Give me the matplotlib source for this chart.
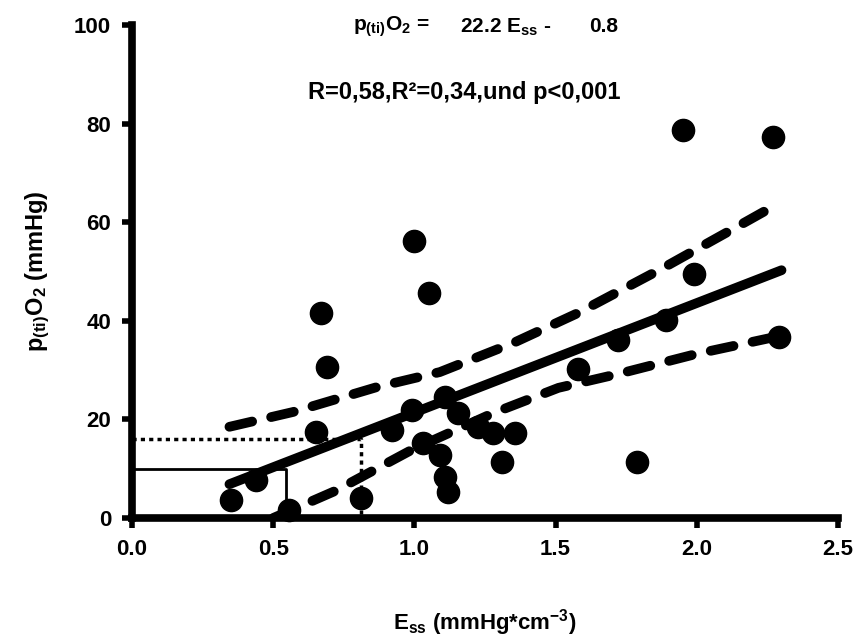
import matplotlib
matplotlib.use('Agg')
import matplotlib.pyplot as plt

# measured points
ees = [0.35, 0.44, 0.556, 0.65, 0.67, 0.69, 0.81, 0.92, 0.99, 1.0, 1.03, 1.05, 1.09, 1.11, 1.11,
       1.12, 1.155, 1.225, 1.28, 1.31, 1.355, 1.58, 1.72, 1.79, 1.89, 1.95, 1.99, 2.27, 2.29]
pto2 = [3.65, 7.7, 1.6, 17.5, 41.5, 30.6, 4.0, 17.8, 21.9, 56.2, 15.2, 45.7, 12.8, 24.6, 8.4,
        5.3, 21.3, 18.5, 17.2, 11.4, 17.2, 30.2, 36.1, 11.4, 40.2, 78.8, 49.5, 77.2, 36.8]

# regression from the printed equation
slope, intercept = 22.2, -0.8
reg_x = [0.345, 2.3]

# 95% band
upper_x = [0.345, 0.57, 0.87, 1.09, 1.35, 1.58, 1.88, 2.14, 2.28]
upper_y = [18.5, 21.5, 26.6, 29.6, 35.5, 41.6, 50.7, 59.0, 63.5]
lower_x = [0.5, 0.72, 0.99, 1.28, 1.51, 1.72, 2.0, 2.3]
lower_y = [0.0, 5.5, 13.8, 21.3, 26.4, 29.2, 33.3, 37.0]

# guide lines
solid_guide_x = [0, 0.545, 0.545]
solid_guide_y = [10, 10, 0]
dot_guide_x = [0, 0.81, 0.81]
dot_guide_y = [16, 16, 0]

plt.rcParams['font.family'] = ['Liberation Sans', 'DejaVu Sans']
plt.rcParams['font.weight'] = 'bold'
plt.rcParams['axes.labelweight'] = 'bold'
plt.rcParams['mathtext.fontset'] = 'custom'
plt.rcParams['mathtext.rm'] = 'Liberation Sans:bold'
plt.rcParams['mathtext.it'] = 'Liberation Sans:bold'
plt.rcParams['mathtext.bf'] = 'Liberation Sans:bold'

fig = plt.figure(figsize=(8.6, 6.43), dpi=100)
ax = fig.add_axes([132 / 860, 1 - 518 / 643, (838 - 132) / 860, (518 - 25) / 643])

ax.plot(solid_guide_x, solid_guide_y, color='black', lw=2)
ax.plot(dot_guide_x, dot_guide_y, color='black', lw=2.5, dashes=(1.2, 1.2))

reg_y = [slope * v + intercept for v in reg_x]
ax.plot(reg_x, reg_y, color='black', lw=7, solid_capstyle='round')
ax.plot(upper_x, upper_y, color='black', lw=7, dashes=(2.4, 2.0), dash_capstyle='round')
ax.plot(lower_x, lower_y, color='black', lw=7, dashes=(2.4, 2.0), dash_capstyle='round')

ax.plot(ees, pto2, 'o', color='black', markersize=16, clip_on=False, zorder=3)

ax.set_xlim(0, 2.5)
ax.set_ylim(0, 100)
ax.set_xticks([0, 0.5, 1.0, 1.5, 2.0, 2.5])
ax.set_xticklabels(['0.0', '0.5', '1.0', '1.5', '2.0', '2.5'])
ax.set_yticks([0, 20, 40, 60, 80, 100])

for s in ['top', 'right']:
    ax.spines[s].set_visible(False)
for s in ['left', 'bottom']:
    ax.spines[s].set_linewidth(5.5)
    ax.spines[s].set_zorder(4)
ax.tick_params(direction='out', length=7, width=4, labelsize=16, pad=8)

ax.set_xlabel(r'E$_{ss}$ (mmHg*cm$^{-3}$)', fontsize=16, labelpad=34)
ax.set_ylabel(r'p$_{(ti)}$O$_2$ (mmHg)', fontsize=17, labelpad=16)

fig.text(353 / 860, 1 - 27 / 643, r'p$_{(ti)}$O$_2$ =', fontsize=15, va='center', ha='left')
fig.text(460 / 860, 1 - 27 / 643, r'22.2 E$_{ss}$ -', fontsize=15, va='center', ha='left')
fig.text(589 / 860, 1 - 27 / 643, '0.8', fontsize=15, va='center', ha='left')
fig.text(464 / 860, 1 - 92 / 643, 'R=0,58,R²=0,34,und p<0,001', fontsize=17, va='center', ha='center')

fig.savefig('out.png', dpi=100)
